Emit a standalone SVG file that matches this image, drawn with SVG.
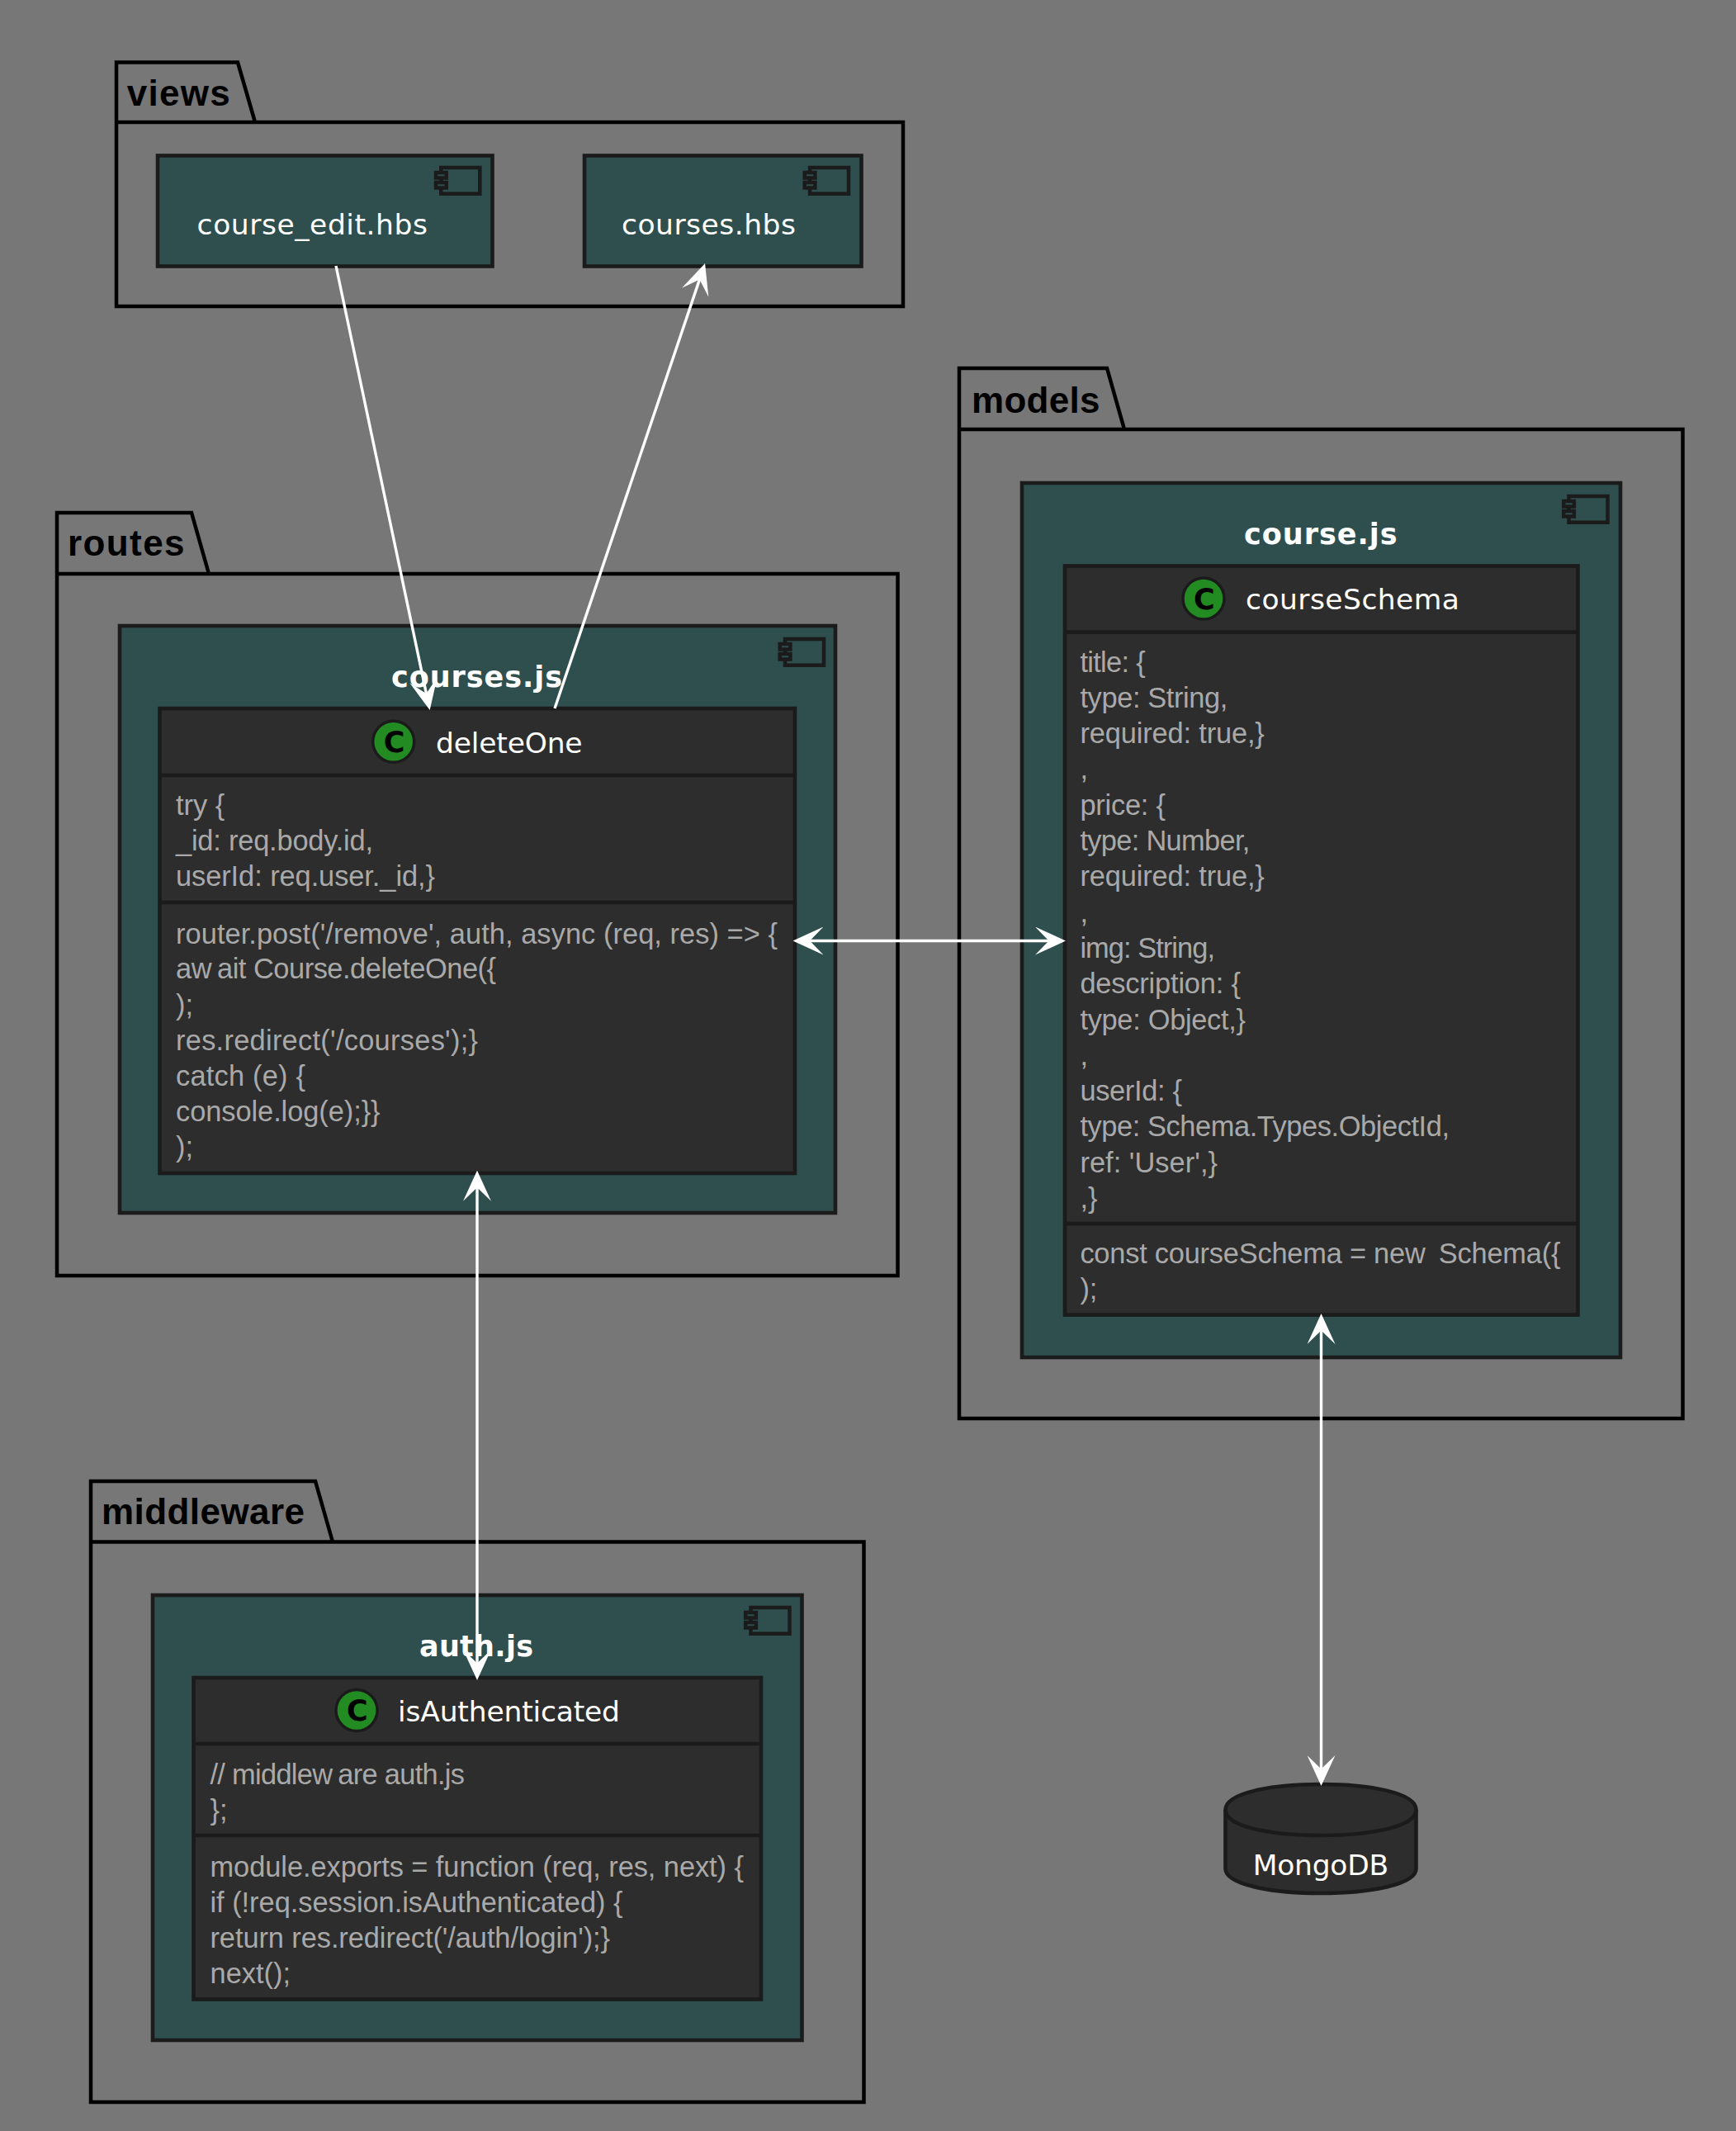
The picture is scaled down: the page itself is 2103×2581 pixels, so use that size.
<svg xmlns="http://www.w3.org/2000/svg" width="2103" height="2581" viewBox="0 0 2103 2581">
<style>
.pkg{fill:none;stroke:#000;stroke-width:4.5}
.comp{fill:#2f4f4f;stroke:#1b1b1b;stroke-width:4.6}
.icon{fill:#2f4f4f;stroke:#1b1b1b;stroke-width:4.5}
.cls{fill:#2d2d2d;stroke:#1b1b1b;stroke-width:4.6}
.div{fill:none;stroke:#1b1b1b;stroke-width:4.6}
.spot{fill:#228b22;stroke:#1b1b1b;stroke-width:3.5}
.pt{font:bold 44px "Liberation Sans",Arial,sans-serif;fill:#000}
.ct{font:bold 35px "DejaVu Sans",sans-serif;fill:#fff;text-anchor:start}
.nm{font:34.5px "DejaVu Sans",sans-serif;fill:#fff}
.c{font:bold 35px "DejaVu Sans",sans-serif;fill:#000;text-anchor:middle}
.b{font:34.4px "Liberation Sans",Arial,sans-serif;fill:#a9a9a9}
.edge{fill:none;stroke:#fff;stroke-width:3.4}
</style>
<defs>
<marker id="arrow" markerUnits="userSpaceOnUse" markerWidth="37" markerHeight="34" viewBox="0 -17 37 34" refX="25" refY="0" orient="auto-start-reverse"><path d="M0,-17 L37,0 L0,17 L16.5,0 Z" fill="#fff"/></marker>
<g id="cicon"><rect class="icon" x="0" y="0" width="47" height="31.7"/><rect class="icon" x="-6.3" y="6" width="12.7" height="6.5"/><rect class="icon" x="-6.3" y="18" width="12.7" height="6.5"/></g>
</defs>
<rect width="2103" height="2581" fill="#777777"/>

<g id="views">
<path class="pkg" d="M141,371 V75.5 H288 L309,148 M141,148 H1094 V371 H141 Z"/>
<text class="pt" x="153.7" y="127.5" textLength="125" lengthAdjust="spacing">views</text>
<g id="course_edit">
<rect class="comp" x="191" y="188.5" width="405.5" height="134"/>
<use href="#cicon" x="534.3" y="203"/>
<text class="nm" x="238.6" y="284" textLength="279.4">course_edit.hbs</text>
</g>
<g id="courses_hbs">
<rect class="comp" x="708" y="188.5" width="335.5" height="134"/>
<use href="#cicon" x="981" y="203"/>
<text class="nm" x="753" y="284" textLength="211">courses.hbs</text>
</g>
</g>

<g id="routes">
<path class="pkg" d="M69,695 V621 H232 L253,695 M69,695 H1087.5 V1545 H69 Z"/>
<text class="pt" x="82" y="672.5" textLength="141.5" lengthAdjust="spacing">routes</text>
<g id="courses_js">
<rect class="comp" x="145" y="758" width="867" height="711"/>
<use href="#cicon" x="951" y="774"/>
<text class="ct" x="474" y="832" textLength="207">courses.js</text>
<g id="deleteOne">
<rect class="cls" x="193.5" y="858" width="769.5" height="563"/>
<path class="div" d="M193.5,939 H963 M193.5,1093 H963"/>
<circle class="spot" cx="476.7" cy="898.3" r="25"/>
<text class="c" x="477.5" y="911">C</text>
<text class="nm" x="528" y="912" textLength="177.6">deleteOne</text>
<text class="b" x="213" y="987">try {</text>
<text class="b" x="213" y="1030" textLength="239">_id: req.body.id,</text>
<text class="b" x="213" y="1073" textLength="314">userId: req.user._id,}</text>
<text class="b" x="213" y="1142.5" textLength="729">router.post('/remove', auth, async (req, res) =&gt; {</text>
<text class="b" x="213" y="1185" textLength="388">aw<tspan dx="7">ait</tspan> Course.deleteOne({</text>
<text class="b" x="213" y="1228.5">);</text>
<text class="b" x="213" y="1271.5" textLength="366">res.redirect('/courses');}</text>
<text class="b" x="213" y="1314.5" textLength="157">catch (e) {</text>
<text class="b" x="213" y="1357.5" textLength="247.6">console.log(e);}}</text>
<text class="b" x="213" y="1401">);</text>
</g>
</g>
</g>

<g id="models">
<path class="pkg" d="M1162,520 V446 H1341 L1362,520 M1162,520 H2038.5 V1718 H1162 Z"/>
<text class="pt" x="1177" y="499.5" textLength="155.5" lengthAdjust="spacing">models</text>
<g id="course_js">
<rect class="comp" x="1238" y="585" width="725" height="1059"/>
<use href="#cicon" x="1900.5" y="601"/>
<text class="ct" x="1507" y="659" textLength="185.5">course.js</text>
<g id="courseSchema">
<rect class="cls" x="1290" y="685.5" width="621.5" height="907"/>
<path class="div" d="M1290,765.6 H1911.5 M1290,1482 H1911.5"/>
<circle class="spot" cx="1458" cy="725" r="25"/>
<text class="c" x="1458.8" y="737.5">C</text>
<text class="nm" x="1509" y="738" textLength="259">courseSchema</text>
<text class="b" x="1308.4" y="813.5" textLength="79.3">title: {</text>
<text class="b" x="1308.4" y="856.8" textLength="179">type: String,</text>
<text class="b" x="1308.4" y="900.1" textLength="223.4">required: true,}</text>
<text class="b" x="1308.4" y="943.4">,</text>
<text class="b" x="1308.4" y="986.7" textLength="103.6">price: {</text>
<text class="b" x="1308.4" y="1030" textLength="206">type: Number,</text>
<text class="b" x="1308.4" y="1073.3" textLength="223.4">required: true,}</text>
<text class="b" x="1308.4" y="1116.6">,</text>
<text class="b" x="1308.4" y="1159.9" textLength="163.6">img: String,</text>
<text class="b" x="1308.4" y="1203.2" textLength="194.6">description: {</text>
<text class="b" x="1308.4" y="1246.5" textLength="200.6">type: Object,}</text>
<text class="b" x="1308.4" y="1289.8">,</text>
<text class="b" x="1308.4" y="1333.1" textLength="123.5">userId: {</text>
<text class="b" x="1308.4" y="1376.4" textLength="447.6">type: Schema.Types.ObjectId,</text>
<text class="b" x="1308.4" y="1419.7" textLength="166.6">ref: 'User',}</text>
<text class="b" x="1308.4" y="1463">,}</text>
<text class="b" x="1308.4" y="1529.5" textLength="582">const courseSchema = new<tspan dx="7"> </tspan>Schema({</text>
<text class="b" x="1308.4" y="1573">);</text>
</g>
</g>
</g>

<g id="middleware">
<path class="pkg" d="M110,1867.5 V1794 H382 L403,1867.5 M110,1867.5 H1046.5 V2546 H110 Z"/>
<text class="pt" x="123" y="1846" textLength="246" lengthAdjust="spacing">middleware</text>
<g id="auth_js">
<rect class="comp" x="185" y="1932" width="786.5" height="539"/>
<use href="#cicon" x="909.5" y="1947"/>
<text class="ct" x="508" y="2006" textLength="138">auth.js</text>
<g id="isAuthenticated">
<rect class="cls" x="234.5" y="2032" width="687.5" height="389.5"/>
<path class="div" d="M234.5,2112 H922 M234.5,2223 H922"/>
<circle class="spot" cx="432" cy="2071.5" r="25"/>
<text class="c" x="432.8" y="2084">C</text>
<text class="nm" x="482" y="2084.5" textLength="269">isAuthenticated</text>
<text class="b" x="254.5" y="2160.6" textLength="308.5">// middlew<tspan dx="7">are</tspan> auth.js</text>
<text class="b" x="254.5" y="2204">};</text>
<text class="b" x="254.5" y="2272.5" textLength="646.5">module.exports = function (req, res, next) {</text>
<text class="b" x="254.5" y="2316" textLength="500">if (!req.session.isAuthenticated) {</text>
<text class="b" x="254.5" y="2359" textLength="484.5">return res.redirect('/auth/login');}</text>
<text class="b" x="254.5" y="2402" textLength="97.5">next();</text>
</g>
</g>
</g>

<g id="MongoDB">
<path class="cls" d="M1484.5,2192 C1484.5,2171 1542,2161 1600,2161 C1658,2161 1715.5,2171 1715.5,2192 L1715.5,2263 C1715.5,2283 1658,2293 1600,2293 C1542,2293 1484.5,2283 1484.5,2263 Z"/>
<path class="div" d="M1484.5,2192 C1484.5,2213 1542,2223 1600,2223 C1658,2223 1715.5,2213 1715.5,2192"/>
<text class="nm" x="1517.7" y="2270.7" textLength="164.5">MongoDB</text>
</g>

<g id="connectors">
<path class="edge" d="M407,322 L518.2,848.3" marker-end="url(#arrow)"/>
<path class="edge" d="M672,858 L850.2,330.4" marker-end="url(#arrow)"/>
<path class="edge" d="M972.5,1139.5 H1279" marker-start="url(#arrow)" marker-end="url(#arrow)"/>
<path class="edge" d="M578,1429.7 V2023" marker-start="url(#arrow)" marker-end="url(#arrow)"/>
<path class="edge" d="M1600.5,1603 V2151" marker-start="url(#arrow)" marker-end="url(#arrow)"/>
</g>
</svg>
